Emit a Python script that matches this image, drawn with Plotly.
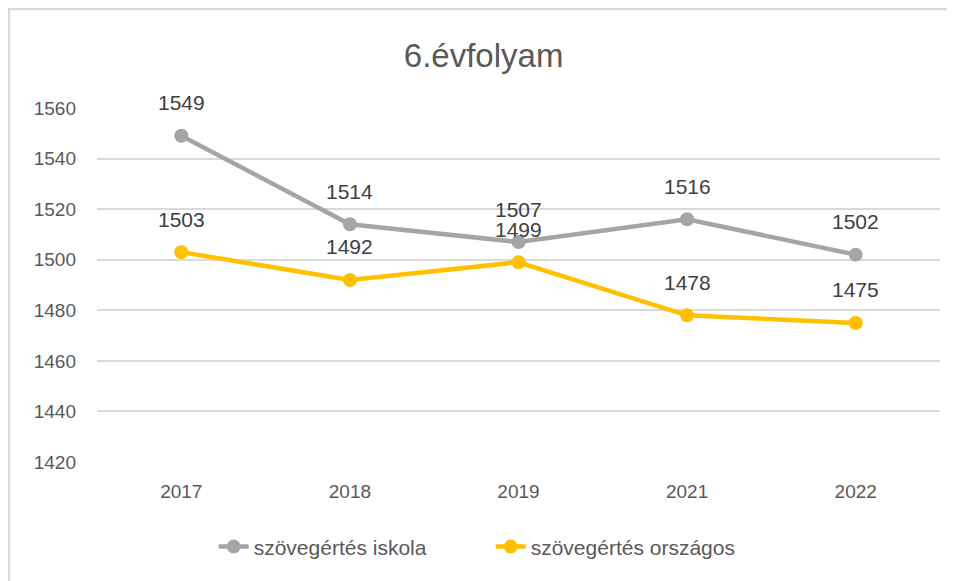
import plotly.graph_objects as go

# adatok
evek = ["2017", "2018", "2019", "2021", "2022"]
iskola = [1549, 1514, 1507, 1516, 1502]
orszagos = [1503, 1492, 1499, 1478, 1475]
y_ticks = [1420, 1440, 1460, 1480, 1500, 1520, 1540, 1560]

SZURKE = "#A5A5A5"
ARANY = "#FFC000"
BETU = "Liberation Sans, Arial"

fig = go.Figure()

for nev, ertekek, szin in [
    ("szövegértés iskola", iskola, SZURKE),
    ("szövegértés országos", orszagos, ARANY),
]:
    fig.add_trace(go.Scatter(
        x=evek, y=ertekek, name=nev, mode="lines+markers",
        line=dict(color=szin, width=4.5),
        marker=dict(color=szin, size=14),
    ))
    # adatcímkék a pontok fölött (kategória-index szerint)
    for i, ertek in enumerate(ertekek):
        fig.add_annotation(
            x=i, y=ertek, xref="x", yref="y", text=str(ertek), showarrow=False,
            yshift=33, font=dict(size=21, color="#404040", family=BETU),
        )

fig.update_layout(
    width=955, height=581,
    paper_bgcolor="white", plot_bgcolor="white",
    margin=dict(l=89, r=23, t=100, b=127),
    title=dict(text="6.évfolyam", x=0.498, xanchor="center", y=0.919, yanchor="middle",
               font=dict(size=33, color="#595959", family=BETU)),
    xaxis=dict(type="category", range=[-0.5, 4.5], showgrid=False, showline=False,
               ticks="", tickfont=dict(size=19, color="#595959", family=BETU),
               ticklabelstandoff=16),
    yaxis=dict(range=[1420, 1560], tickvals=y_ticks, showgrid=True,
               gridcolor="#D9D9D9", gridwidth=1.5, zeroline=False, showline=False,
               tickfont=dict(size=19, color="#595959", family=BETU),
               ticklabelstandoff=20),
    legend=dict(orientation="h", x=0.467, xanchor="center", y=-0.24, yanchor="middle",
                entrywidth=232, entrywidthmode="pixels",
                font=dict(size=21, color="#595959", family=BETU)),
    showlegend=True,
    shapes=[dict(type="rect", xref="paper", yref="paper", x0=-0.1044, x1=1.1,
                 y0=-0.5, y1=1.2797, line=dict(color="#D9D9D9", width=2.5),
                 fillcolor="rgba(0,0,0,0)", layer="below")],
)

fig.write_html("out.html")
